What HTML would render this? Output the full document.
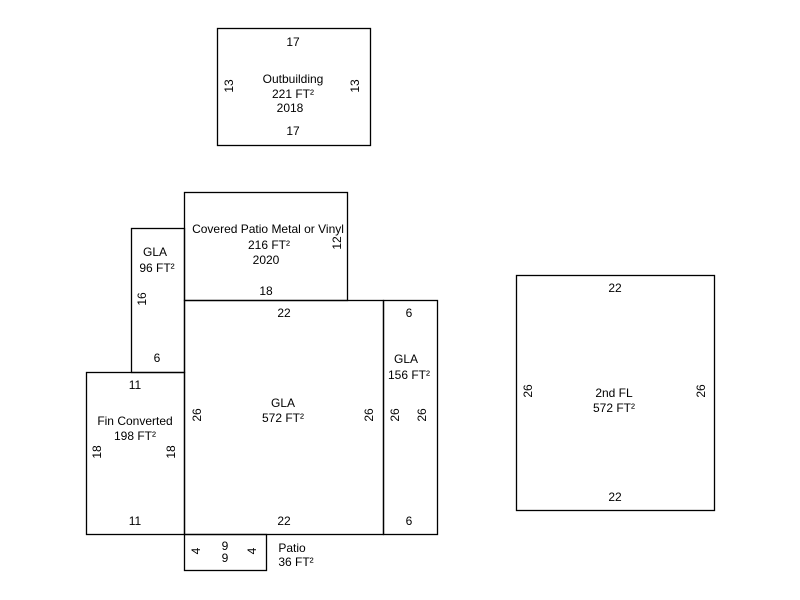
<!DOCTYPE html>
<html><head><meta charset="utf-8"><style>body{margin:0;background:#fff}svg{display:block}text{font-family:"Liberation Sans",Arial,sans-serif;font-size:12px;fill:#000}</style></head>
<body>
<svg width="800" height="600" viewBox="0 0 800 600" xmlns="http://www.w3.org/2000/svg">
<g fill="none" stroke="#000" stroke-width="1.3">
<rect x="217.5" y="28.5" width="153" height="117"/>
<rect x="184.5" y="192.5" width="163" height="108"/>
<rect x="131.5" y="228.5" width="53" height="144"/>
<rect x="184.5" y="300.5" width="199" height="234"/>
<rect x="383.5" y="300.5" width="54" height="234"/>
<rect x="86.5" y="372.5" width="98" height="162"/>
<rect x="184.5" y="534.5" width="82" height="36"/>
<rect x="516.5" y="275.5" width="198" height="235"/>
</g>
<g text-anchor="middle">
<text x="293" y="46">17</text>
<text x="293" y="83">Outbuilding</text>
<text x="293" y="98">221 FT²</text>
<text x="290" y="112">2018</text>
<text x="293" y="135">17</text>
<text transform="translate(233,86) rotate(-90)">13</text>
<text transform="translate(359,86) rotate(-90)">13</text>

<text x="268" y="233">Covered Patio Metal or Vinyl</text>
<text x="269" y="249">216 FT²</text>
<text x="266" y="264">2020</text>
<text transform="translate(341,243) rotate(-90)">12</text>
<text x="266" y="295">18</text>

<text x="155" y="256">GLA</text>
<text x="157" y="272">96 FT²</text>
<text transform="translate(146,299) rotate(-90)">16</text>
<text x="157" y="362">6</text>

<text x="284" y="317">22</text>
<text x="283" y="407">GLA</text>
<text x="283" y="422">572 FT²</text>
<text transform="translate(201,415) rotate(-90)">26</text>
<text transform="translate(373,415) rotate(-90)">26</text>
<text x="284" y="525">22</text>

<text x="409" y="317">6</text>
<text x="406" y="363">GLA</text>
<text x="409" y="379">156 FT²</text>
<text transform="translate(399,415) rotate(-90)">26</text>
<text transform="translate(426,415) rotate(-90)">26</text>
<text x="409" y="525">6</text>

<text x="135" y="389">11</text>
<text x="135" y="425">Fin Converted</text>
<text x="135" y="440">198 FT²</text>
<text transform="translate(101,452) rotate(-90)">18</text>
<text transform="translate(175,452) rotate(-90)">18</text>
<text x="135" y="525">11</text>

<text transform="translate(200,551) rotate(-90)">4</text>
<text x="225" y="550">9</text>
<text x="225" y="562">9</text>
<text transform="translate(256,551) rotate(-90)">4</text>
<text x="292" y="552">Patio</text>
<text x="296" y="566">36 FT²</text>

<text x="615" y="292">22</text>
<text x="614" y="397">2nd FL</text>
<text x="614" y="412">572 FT²</text>
<text transform="translate(532,391) rotate(-90)">26</text>
<text transform="translate(705,391) rotate(-90)">26</text>
<text x="615" y="501">22</text>
</g>
</svg>
</body></html>
